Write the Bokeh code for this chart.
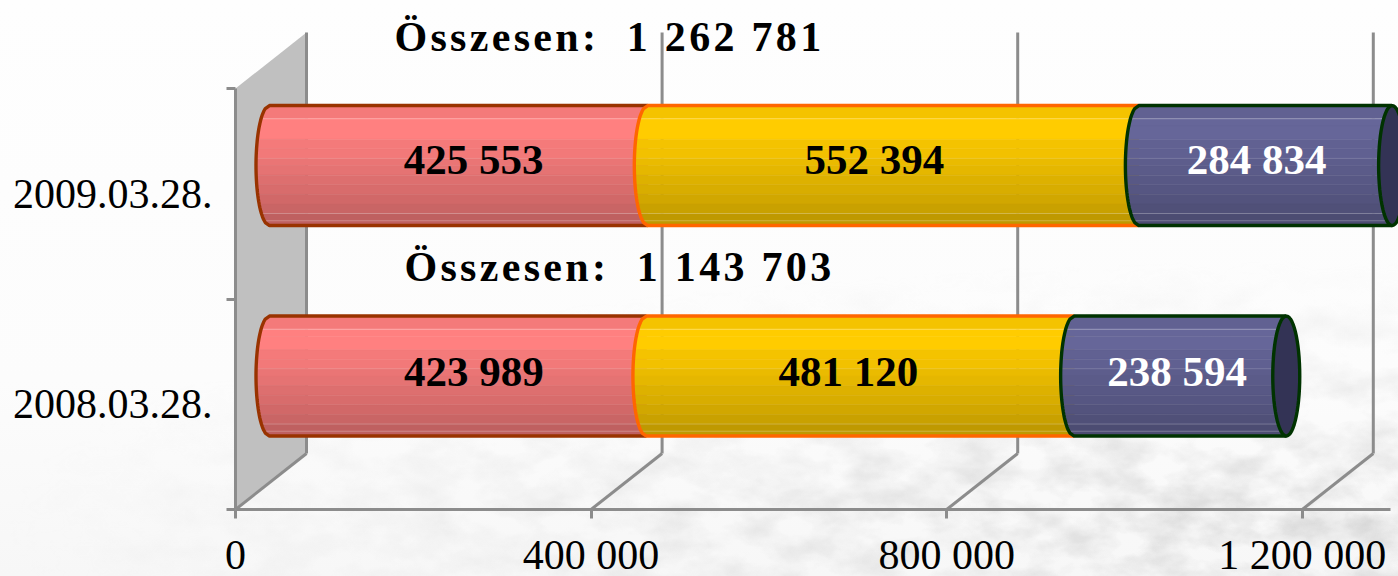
from bokeh.plotting import figure, curdoc
from bokeh.embed import file_html
from bokeh.resources import INLINE
from bokeh.models import FixedTicker, CustomJS, LinearAxis, Range1d
from bokeh.core.properties import value
from urllib.parse import quote
import numpy as np

# ---------- data ----------
dates = ["2008.03.28.", "2009.03.28."]
series_a = [423989, 425553]
series_b = [481120, 552394]
series_c = [238594, 284834]
totals = ["1 143 703", "1 262 781"]
x_ticks = [0, 400000, 800000, 1200000]
x_tick_labels = ["0", "400 000", "800 000", "1 200 000"]

# ---------- style ----------
W, H = 1398, 576
F_LEFT, F_BOTTOM = 235, 509           # frame corner in pixels
KX = 0.000889                         # px per unit
KY = 210.5                            # px per category
FONT = "Liberation Serif"
GRID = "#8c8c8c"
A_FILL, A_LINE = (255, 128, 128), "#993300"
B_FILL, B_LINE = (255, 204, 0), "#ff6600"
C_FILL, C_LINE = (102, 102, 153), "#003300"
CAP_FILL = "#333355"
DEPTH_X = 71 / KX
DEPTH_Y = 56 / KY
BAR_X0 = 34 / KX
BAR_Y = 0.134
BAR_H = 120 / KY
ARC = 13.5 / KX
BAND_EDGES = [0, .11, .17, .28, .36, .44, .50, .58, .66, .74, .82, .90, 1]
BAND_MULT = [.96, 1, 1, .96, .95, .92, .90, .87, .85, .82, .79, .75]
LABEL_SHIFT = [[16, -12, -3], [15, -19, -9]]
LABEL_RISE = [5, 6]
LABEL_COLORS = ["black", "black", "white"]
# decorative washed-out photo behind the chart: a CSS background, not chart data
TEXTURE = ("<svg xmlns='http://www.w3.org/2000/svg' width='1398' height='576'><defs>"
           "<filter id='n' x='0' y='0' width='100%' height='100%'>"
           "<feTurbulence type='fractalNoise' baseFrequency='0.02 0.035' numOctaves='4' seed='7'/>"
           "<feColorMatrix values='0 0 0 0 0.5 0 0 0 0 0.5 0 0 0 0 0.5 1.1 0 0 0 -0.38'/></filter>"
           "<radialGradient id='g' gradientUnits='userSpaceOnUse' cx='0' cy='0' r='1' "
           "gradientTransform='translate(1300 520) scale(1300 260)'>"
           "<stop offset='0' stop-color='#fff'/><stop offset='.35' stop-color='#999'/>"
           "<stop offset='.7' stop-color='#444'/><stop offset='1' stop-color='#000'/></radialGradient>"
           "<mask id='m'><rect width='1398' height='576' fill='url(#g)'/></mask></defs>"
           "<g mask='url(#m)'><rect width='1398' height='576' filter='url(#n)'/></g></svg>")
BACKDROP = ('url("data:image/svg+xml,' + quote(TEXTURE) + '"), '
            "linear-gradient(to bottom, #fefefe 0, #fcfcfc 380px, #f7f7f7 576px)")

p = figure(width=W, height=H, output_backend="svg", toolbar_location=None,
           frame_width=W - F_LEFT, frame_height=F_BOTTOM,
           x_range=Range1d(0, (W - F_LEFT) / KX),
           y_range=Range1d(0, F_BOTTOM / KY),
           x_axis_type=None, y_axis_type=None,
           min_border_left=F_LEFT, min_border_right=0, min_border_top=0, min_border_bottom=H - F_BOTTOM)
p.grid.visible = False
p.outline_line_color = None
p.background_fill_color = None
p.border_fill_color = None
p.styles = {"background": BACKDROP}

# ---------- back wall and grid ----------
y_top = 2.0
p.patch([0, 0, DEPTH_X, DEPTH_X], [0, y_top, y_top + DEPTH_Y, DEPTH_Y], fill_color="#c0c0c0", line_color=None)
p.segment(x0=[t + DEPTH_X for t in x_ticks], x1=[t + DEPTH_X for t in x_ticks],
          y0=[DEPTH_Y] * 4, y1=[y_top + DEPTH_Y] * 4, line_color=GRID, line_width=3)
p.segment(x0=x_ticks, x1=[t + DEPTH_X for t in x_ticks], y0=[0] * 4, y1=[DEPTH_Y] * 4, line_color=GRID, line_width=3)

# ---------- axes ----------
bx = LinearAxis(ticker=FixedTicker(ticks=x_ticks), bounds=(-10 / KX, (1390 - F_LEFT) / KX))
bx.major_label_overrides = {t: s for t, s in zip(x_ticks, x_tick_labels)}
bx.axis_line_color = GRID; bx.axis_line_width = 3
bx.major_tick_line_color = GRID; bx.major_tick_line_width = 3
bx.major_tick_in = 0; bx.major_tick_out = 9; bx.minor_tick_line_color = None
bx.major_label_text_font = FONT; bx.major_label_text_font_size = "42px"; bx.major_label_text_color = "black"
bx.major_label_standoff = 13
p.add_layout(bx, "below")

ly = LinearAxis(ticker=FixedTicker(ticks=[.5, 1.5], minor_ticks=[0, 1, 2]), bounds=(0, 2))
ly.major_label_overrides = {.5: dates[0], 1.5: dates[1]}
ly.axis_line_color = GRID; ly.axis_line_width = 3
ly.major_tick_line_color = None; ly.major_tick_in = 0; ly.major_tick_out = 0
ly.minor_tick_line_color = GRID; ly.minor_tick_line_width = 3; ly.minor_tick_in = 0; ly.minor_tick_out = 9
ly.major_label_text_font = FONT; ly.major_label_text_font_size = "42px"; ly.major_label_text_color = "black"
ly.major_label_standoff = 14
ly.major_label_orientation = "horizontal"
p.add_layout(ly, "left")

# ---------- cylinders ----------
def arc_x(t):
    return ARC * np.sqrt(np.clip(1 - t * t, 0, 1))

def segment(x0, x1, yc, rgb, line):
    top, bot = yc + BAR_H / 2, yc - BAR_H / 2
    for i, m in enumerate(BAND_MULT):
        t = np.linspace(1 - 2 * BAND_EDGES[i], 1 - 2 * BAND_EDGES[i + 1], 8)
        xs = list(x0 - arc_x(t)) + [x1, x1]
        ys = list(yc + t * BAR_H / 2) + [yc + t[-1] * BAR_H / 2, yc + t[0] * BAR_H / 2]
        col = "#%02x%02x%02x" % tuple(int(c * m) for c in rgb)
        p.patch(xs, ys, fill_color=col, line_color=col, line_width=.5)
    # thin light stripes of the gradient
    for f, a in ((.11, .3), (.44, .12), (.90, .25), (.96, .25)):
        yy = yc + (1 - 2 * f) * BAR_H / 2
        xa = x0 - arc_x(1 - 2 * f)
        p.line([xa, x1], [yy, yy], line_color="white", line_alpha=a, line_width=1)
    t = np.linspace(1, -1, 41)
    xs = [x1] + list(x0 - arc_x(t)) + [x1]
    ys = [top] + list(yc + t * BAR_H / 2) + [bot]
    p.line(xs, ys, line_color=line, line_width=3.4)

for i in range(2):
    yc = i + .5 + BAR_Y
    a0 = BAR_X0
    a1 = a0 + series_a[i]
    b1 = a1 + series_b[i]
    c1 = b1 + series_c[i]
    segment(a0, a1, yc, A_FILL, A_LINE)
    segment(a1, b1, yc, B_FILL, B_LINE)
    segment(b1, c1, yc, C_FILL, C_LINE)
    th = np.linspace(0, 2 * np.pi, 61)
    p.patch(c1 + ARC * np.cos(th), yc + BAR_H / 2 * np.sin(th), fill_color=CAP_FILL, line_color=C_LINE, line_width=3.4)
    starts = [a0, a1, b1]
    vals = [series_a[i], series_b[i], series_c[i]]
    for j in range(3):
        cx = starts[j] + vals[j] / 2 + LABEL_SHIFT[i][j] / KX
        p.text([cx], [yc + LABEL_RISE[i] / KY], text=[f"{vals[j]:,}".replace(",", " ")], text_align="center", text_baseline="middle",
               text_font=value(FONT), text_font_style="bold", text_font_size="43px", text_color=LABEL_COLORS[j])

# ---------- totals ----------
p.text([(404 - F_LEFT) / KX, (394 - F_LEFT) / KX], [(F_BOTTOM - 266) / KY, (F_BOTTOM - 36) / KY],
       text=[f"Összesen:\u00a0\u00a0{t}" for t in totals], text_align="left", text_baseline="middle",
       text_font=value(FONT), text_font_style="bold", text_font_size="42px", text_color="black")

cb = CustomJS(code="""
function walk(root){
  root.querySelectorAll('*').forEach(el=>{
    if(el.tagName==='text' && el.textContent.startsWith('Összesen')) el.setAttribute('letter-spacing','3.3px');
    if(el.shadowRoot) walk(el.shadowRoot);
  });
}
[0,100,400,1000].forEach(t=>setTimeout(()=>walk(document),t));
""")
doc = curdoc()
doc.add_root(p)
doc.js_on_event("document_ready", cb)
open("out.html", "w").write(file_html(p, INLINE))
